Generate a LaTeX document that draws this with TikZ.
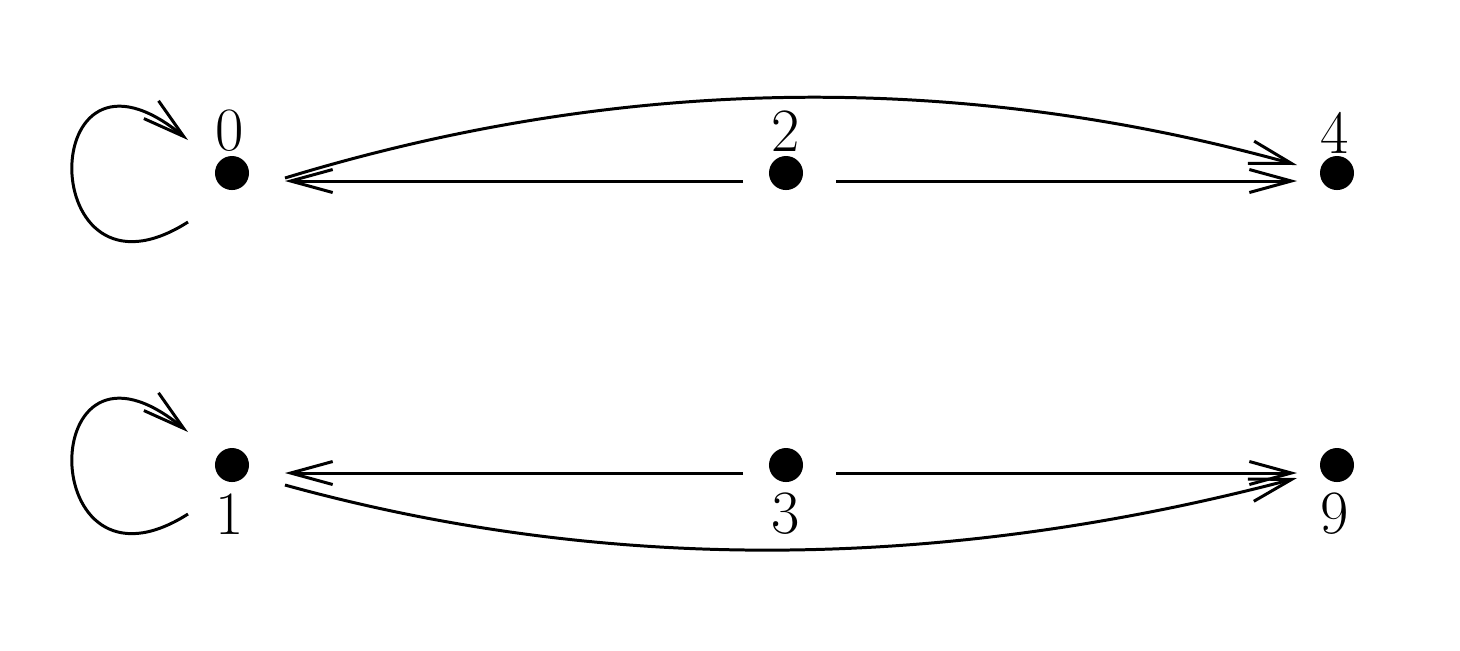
\documentclass[tikz,border=0pt]{standalone}
\usetikzlibrary{arrows.meta}
\begin{document}
\begin{tikzpicture}[x=0.01cm,y=-0.01cm,
  vtx/.style={circle,fill=black,inner sep=0pt,minimum size=0.34cm},
  lbl/.style={inner sep=0pt,font=\fontsize{17.5}{20}\selectfont},
  arr/.style={line width=0.85pt,-{Straight Barb[length=4.2mm,width=2.3mm,line width=0.85pt]}}]
\useasboundingbox (0,0) rectangle (1460,650);
\node[vtx] (n0) at (232,173) {};
\node[vtx] (n2) at (786,173) {};
\node[vtx] (n4) at (1337,173) {};
\node[vtx] (n1) at (232,465) {};
\node[vtx] (n3) at (786,465) {};
\node[vtx] (n9) at (1337,465) {};
\node[lbl] (l0) at (230,131) {0};
\node[lbl] (l2) at (786,131) {2};
\node[lbl] (l4) at (1335,133) {4};
\node[lbl] (l1) at (230,514) {1};
\node[lbl] (l3) at (786,514) {3};
\node[lbl] (l9) at (1335,514) {9};
% top row
\draw[arr] ([shift={(-43,8)}]n2.center) -- ([shift={(53,8)}]n0.center);
\draw[arr] ([shift={(50,8)}]n2.center) -- ([shift={(-40,8)}]n4.center);
\draw[arr] ([shift={(53,5)}]n0.center) .. controls (622,75) and (959,71) .. ([shift={(-40,-8)}]n4.center);
\draw[arr] ([shift={(-44,49)}]n0.center) .. controls ([shift={(-198,147)}]n0.center) and ([shift={(-198,-160)}]n0.center) .. ([shift={(-44,-33)}]n0.center);
% bottom row
\draw[arr] ([shift={(-43,8)}]n3.center) -- ([shift={(53,8)}]n1.center);
\draw[arr] ([shift={(50,8)}]n3.center) -- ([shift={(-40,8)}]n9.center);
\draw[arr] ([shift={(53,20)}]n1.center) .. controls (622,578) and (959,567) .. ([shift={(-40,13)}]n9.center);
\draw[arr] ([shift={(-44,49)}]n1.center) .. controls ([shift={(-198,147)}]n1.center) and ([shift={(-198,-160)}]n1.center) .. ([shift={(-44,-33)}]n1.center);
\end{tikzpicture}
\end{document}
